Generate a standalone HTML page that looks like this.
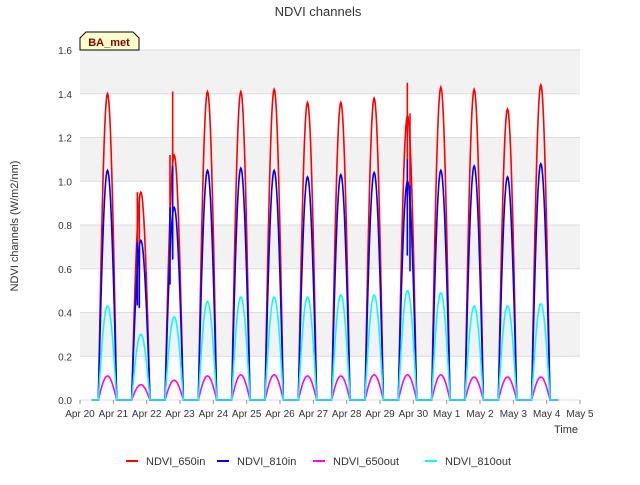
<!DOCTYPE html>
<html><head><meta charset="utf-8"><style>
body{margin:0;background:#fff;font-family:"Liberation Sans",sans-serif;}
svg text{font-family:"Liberation Sans",sans-serif;}
</style></head><body>
<svg id="chart" width="640" height="480">
<rect width="640" height="480" fill="#fff"/>
<g id="bg"></g>
<g id="grid"></g>
<g id="series"></g>
<g id="axes"></g>
<text x="318" y="16" text-anchor="middle" font-size="13" fill="#333">NDVI channels</text>
<text transform="translate(18,226) rotate(-90)" text-anchor="middle" font-size="11" fill="#333">NDVI channels (W/m2/nm)</text>
<text x="566" y="433" text-anchor="middle" font-size="11" fill="#333">Time</text>
<g>
<path d="M80,50 L80,38 L86,32 L133,32 L139,38 L139,50 Z" fill="#ffffcc" stroke="#000" stroke-width="1"/>
<text x="109" y="46" text-anchor="middle" font-size="11" font-weight="bold" fill="#8b0000">BA_met</text>
</g>
<g id="legend"></g>
</svg>
<script>
const dayLabels=["Apr 20","Apr 21","Apr 22","Apr 23","Apr 24","Apr 25","Apr 26","Apr 27","Apr 28","Apr 29","Apr 30","May 1","May 2","May 3","May 4","May 5"];
const yTicks=[0,0.2,0.4,0.6,0.8,1.0,1.2,1.4,1.6];
const seriesNames=["NDVI_650in","NDVI_810in","NDVI_650out","NDVI_810out"];
const seriesColors=["#ff0000","#0000ff","#ff00ff","#00ffff"];
const peak650in=[1.40,0.95,1.12,1.41,1.41,1.42,1.36,1.36,1.38,1.30,1.43,1.42,1.33,1.44];
const peak810in=[1.05,0.73,0.88,1.05,1.06,1.05,1.02,1.03,1.04,1.00,1.05,1.07,1.02,1.08];
const peak650out=[0.11,0.07,0.09,0.11,0.115,0.115,0.11,0.11,0.115,0.115,0.115,0.105,0.105,0.105];
const peak810out=[0.43,0.30,0.38,0.45,0.47,0.47,0.47,0.48,0.48,0.50,0.49,0.43,0.43,0.44];
const spikes650in=[[1.72,0.95],[1.78,0.93],[2.78,1.41],[2.70,1.12],[9.82,1.45],[9.9,1.31]];
const spikes810in=[[1.72,0.72],[1.78,0.7],[2.78,1.07],[2.70,0.88],[9.82,1.1],[9.9,0.98]];
const allPeaks=[peak650in,peak810in,peak650out,peak810out];
const allSpikes=[spikes650in,spikes810in,[],[]];
const X0=80,X1=580,Y0=400,Y1=50;
const xs=d=>X0+(X1-X0)*d/15;
const ys=v=>Y0-(Y0-Y1)*v/1.6;
const NS="http://www.w3.org/2000/svg";
function mk(t,a,p){const e=document.createElementNS(NS,t);for(const k in a)e.setAttribute(k,a[k]);p.appendChild(e);return e;}
const bg=document.getElementById('bg'),grid=document.getElementById('grid'),axes=document.getElementById('axes');
mk('rect',{x:X0,y:Y1,width:X1-X0,height:Y0-Y1,fill:'#fff'},bg);
for(let i=0;i<yTicks.length-1;i++){if(i%2==1){const r=mk('rect',{x:X0,y:ys(yTicks[i+1]),width:X1-X0,height:ys(yTicks[i])-ys(yTicks[i+1]),fill:'#f2f2f2'},bg);

}}
yTicks.forEach(v=>{const l=mk('line',{x1:X0,x2:X1,y1:ys(v),y2:ys(v),stroke:'#dcdcdc','stroke-width':1},grid);


const t=mk('text',{x:X0-8,y:ys(v)+4,'text-anchor':'end','font-size':10,fill:'#333'},axes);t.textContent=v.toFixed(1);

});
dayLabels.forEach((s,i)=>{const t=mk('text',{x:xs(i),y:Y0+17,'text-anchor':'middle','font-size':10,fill:'#333'},axes);t.textContent=s;


mk('line',{x1:xs(i),x2:xs(i),y1:Y0,y2:Y0+4,stroke:'#999'},axes);});
const sg=document.getElementById('series');
allPeaks.forEach((pk,si)=>{
  let pts=[[xs(0.35),ys(0)]];
  pk.forEach((p,k)=>{
    const s=k+0.55,e=k+1.1;
    pts.push([xs(s),ys(0)]);
    for(let j=0;j<=30;j++){const f=j/30;const d=s+(e-s)*f;const w=Math.sin(Math.PI*f);pts.push([xs(d),ys(p*w)]);}
  });
  pts.push([xs(14.35),ys(0)]);
  const pl=mk('polyline',{points:pts.map(p=>p.join(',')).join(' '),fill:'none',stroke:seriesColors[si],'stroke-width':1.6},sg);
  
  
  allSpikes[si].forEach(q=>{const l=mk('line',{x1:xs(q[0]),x2:xs(q[0]),y1:ys(q[1]*0.6),y2:ys(q[1]),stroke:seriesColors[si],'stroke-width':1.6},sg);
  
  });
});
const lg=document.getElementById('legend');
const lx=[126,217,313,425];
seriesNames.forEach((n,i)=>{const g=mk('g',{},lg);


mk('line',{x1:lx[i],x2:lx[i]+12,y1:461,y2:461,stroke:seriesColors[i],'stroke-width':2},g);
const t=mk('text',{x:lx[i]+20,y:465,'font-size':11,fill:'#333'},g);t.textContent=n;});
</script>
</body></html>
